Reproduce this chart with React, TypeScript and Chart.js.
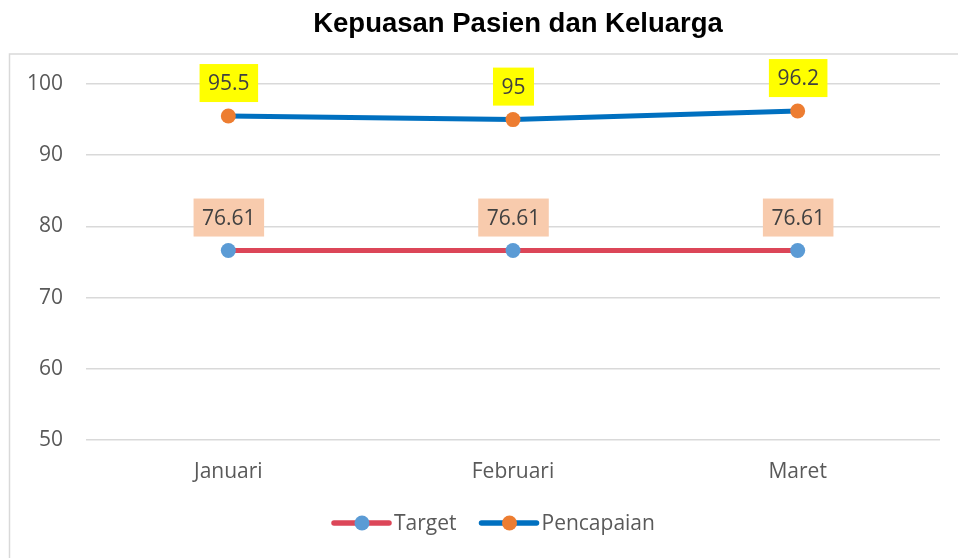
import React, { useEffect, useRef } from "react";
import { Chart, registerables } from "chart.js";

Chart.register(...registerables);

const chartTitle = "Kepuasan Pasien dan Keluarga";
const categories = ["Januari", "Februari", "Maret"];
const targetValues = [76.61, 76.61, 76.61];
const pencapaianValues = [95.5, 95, 96.2];
const yMin = 50;
const yMax = 100;
const yStep = 10;

const FONT = "'Open Sans', 'Noto Sans', sans-serif";

const styles = [
  { label: "Target", line: "#DC4658", point: "#5B9BD5", labelBg: "#F8CBAD" },
  { label: "Pencapaian", line: "#0070C0", point: "#ED7D31", labelBg: "#FFFF00" },
];

const decorPlugin = {
  id: "decor",
  beforeDraw(chart: any) {
    const ctx = chart.ctx;
    ctx.save();
    ctx.fillStyle = "#FFFFFF";
    ctx.fillRect(0, 0, chart.width, chart.height);
    ctx.strokeStyle = "#D9D9D9";
    ctx.lineWidth = 1.5;
    ctx.strokeRect(9.5, 54, chart.width + 20, chart.height + 20);
    ctx.fillStyle = "#000000";
    ctx.font = "bold 27.5px 'Liberation Sans', Arial, sans-serif";
    ctx.textAlign = "center";
    ctx.textBaseline = "alphabetic";
    ctx.fillText(chartTitle, 518, 32);
    ctx.restore();
  },
  afterDatasetsDraw(chart: any) {
    const ctx = chart.ctx;
    ctx.save();
    ctx.font = `21px ${FONT}`;
    ctx.textAlign = "center";
    ctx.textBaseline = "middle";
    chart.data.datasets.forEach((ds: any, i: number) => {
      const meta = chart.getDatasetMeta(i);
      meta.data.forEach((pt: any, j: number) => {
        const text = String(ds.data[j]);
        const tw = ctx.measureText(text).width;
        const w = tw + 17;
        const h = 38;
        const cx = pt.x + 0.5;
        const cy = pt.y - 33;
        ctx.fillStyle = styles[i].labelBg;
        ctx.fillRect(cx - w / 2, cy - h / 2, w, h);
        ctx.fillStyle = "#404040";
        ctx.fillText(text, cx, cy + 1);
      });
    });
    ctx.restore();
  },
  afterDraw(chart: any) {
    const ctx = chart.ctx;
    ctx.save();
    ctx.font = `21px ${FONT}`;
    ctx.textBaseline = "middle";
    ctx.textAlign = "left";
    let x = 334;
    const y = 523;
    styles.forEach((s) => {
      ctx.strokeStyle = s.line;
      ctx.lineWidth = 5.5;
      ctx.lineCap = "round";
      ctx.beginPath();
      ctx.moveTo(x, y);
      ctx.lineTo(x + 55, y);
      ctx.stroke();
      ctx.fillStyle = s.point;
      ctx.beginPath();
      ctx.arc(x + 28, y, 7.5, 0, Math.PI * 2);
      ctx.fill();
      ctx.fillStyle = "#595959";
      ctx.fillText(s.label, x + 60, y + 1);
      x += 60 + ctx.measureText(s.label).width + 25;
    });
    ctx.restore();
  },
};

export default function App() {
  const ref = useRef<HTMLCanvasElement | null>(null);
  useEffect(() => {
    if (!ref.current) return;
    const seriesValues = [targetValues, pencapaianValues];
    const chart = new Chart(ref.current, {
      type: "line",
      data: {
        labels: categories,
        datasets: styles.map((s, i) => ({
          label: s.label,
          data: seriesValues[i],
          borderColor: s.line,
          backgroundColor: s.point,
          pointBackgroundColor: s.point,
          pointBorderColor: s.point,
          pointRadius: 7.5,
          pointBorderWidth: 0,
          borderWidth: 5,
          tension: 0,
          fill: false,
        })),
      },
      options: {
        responsive: false,
        animation: false,
        devicePixelRatio: 1,
        layout: { padding: { top: 84, right: 18, left: 0, bottom: 0 } },
        plugins: {
          legend: { display: false },
          title: { display: false },
          tooltip: { enabled: false },
        },
        scales: {
          x: {
            type: "category",
            offset: true,
            grid: { display: false, drawTicks: false },
            border: { display: false },
            ticks: {
              color: "#595959",
              font: { family: FONT, size: 21 },
              padding: 19,
            },
            afterFit(scale: any) {
              scale.height = 118;
            },
          },
          y: {
            min: yMin,
            max: yMax,
            ticks: {
              stepSize: yStep,
              color: "#595959",
              font: { family: FONT, size: 21 },
              padding: 23,
            },
            grid: { color: "#D9D9D9", lineWidth: 1.5, drawTicks: false },
            border: { display: false },
            afterFit(scale: any) {
              scale.width = 86;
            },
          },
        },
      },
      plugins: [decorPlugin],
    } as any);
    return () => chart.destroy();
  }, []);
  return (
    <div style={{ position: "absolute", left: 0, top: 0, width: 958, height: 558 }}>
      <canvas ref={ref} width={958} height={558} style={{ display: "block" }} />
    </div>
  );
}
